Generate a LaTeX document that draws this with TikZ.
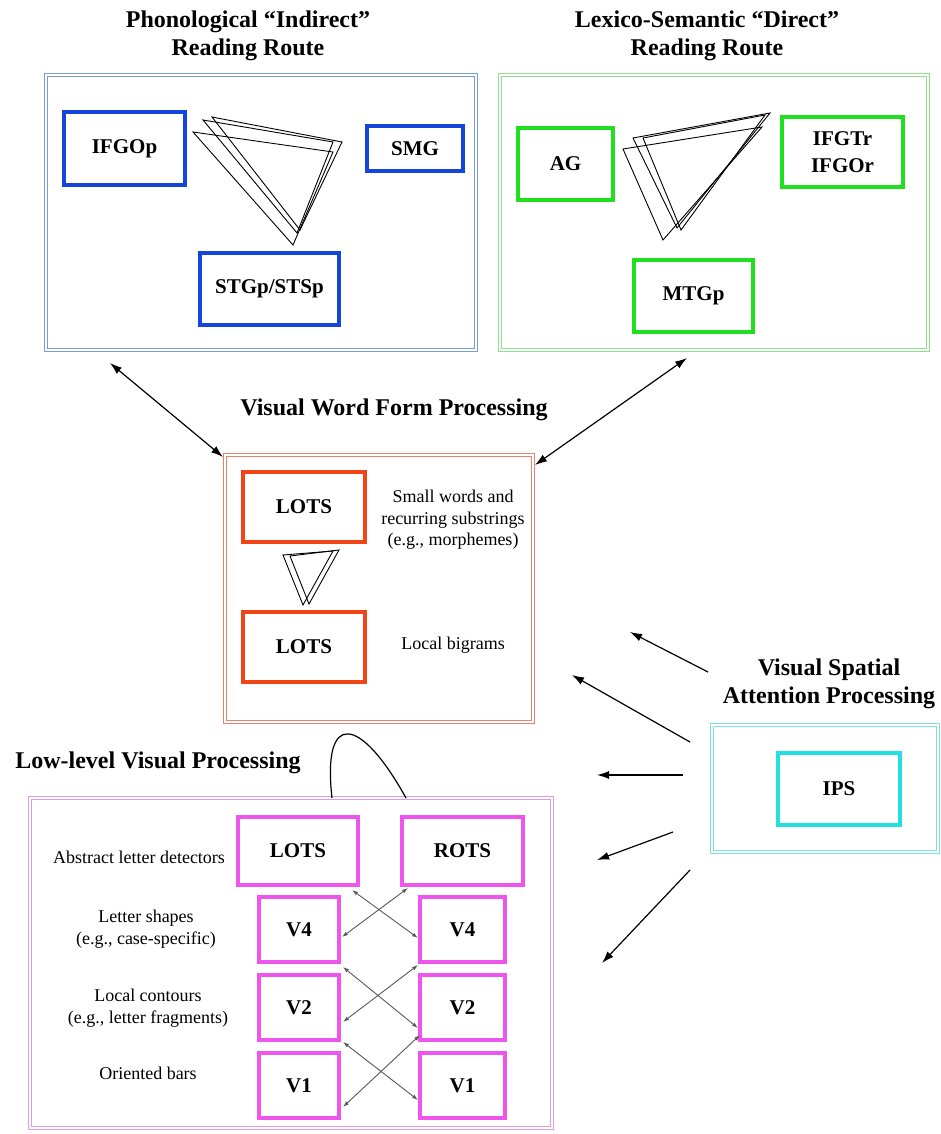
\documentclass[tikz,border=0pt]{standalone}
\usepackage{fontspec}
\setmainfont{Liberation Serif}
\usetikzlibrary{arrows.meta}
\definecolor{bluein}{HTML}{1446DC}
\definecolor{blueout}{HTML}{7B9AE0}
\definecolor{greenin}{HTML}{1EE01E}
\definecolor{greenout}{HTML}{8DE08D}
\definecolor{orangein}{HTML}{F04515}
\definecolor{orangeout}{HTML}{E8826A}
\definecolor{magin}{HTML}{EE55EE}
\definecolor{magout}{HTML}{E09AE0}
\definecolor{cyanin}{HTML}{22E0E0}
\definecolor{cyanout}{HTML}{7FE0E0}
\begin{document}
\begin{tikzpicture}[x=1pt,y=-1pt,
  every node/.style={inner sep=0pt,outer sep=0pt},
  sz/.style 2 args={minimum width=#1pt,minimum height=#2pt},
  region/.style={draw=#1,line width=1.3pt,double=white,double distance=1.8pt},
  roi/.style={draw=#1,line width=3.5pt,font=\fontsize{21}{27}\selectfont\bfseries,align=center},
  ttl/.style={font=\fontsize{24}{28}\selectfont\bfseries,align=center},
  lbl/.style={font=\fontsize{18}{21.5}\selectfont,align=center},
  tri/.style={draw=black,line width=0.9pt},
  bi/.style={{Latex[length=12pt,width=8pt]}-{Latex[length=12pt,width=8pt]},line width=1.2pt},
  one/.style={-{Latex[length=12pt,width=8pt]},line width=1.2pt},
  xarr/.style={{Latex[length=6pt,width=4pt]}-{Latex[length=6pt,width=4pt]},line width=0.9pt,draw=black!65}
]
\useasboundingbox[fill=white] (0,0) rectangle (941,1134);

% ---------- Phonological route ----------
\node[ttl] (t1) at (248,36) {Phonological “Indirect”\\Reading Route};
\node[region=blueout,sz={430}{275}] (phon) at (261,212.5) {};
\node[roi=bluein,sz={121}{73}] (ifgop) at (124.5,148.5) {IFGOp};
\node[roi=bluein,sz={96}{45}] (smg) at (415,148.5) {SMG};
\node[roi=bluein,sz={139}{72}] (stgp) at (269.5,289) {STGp/STSp};
\draw[tri] (193,132) -- (333,152) -- (293,245) -- cycle;
\draw[tri] (203,120) -- (333,142) -- (297,233) -- cycle;
\draw[tri] (212,117) -- (342,142) -- (300,230) -- cycle;

% ---------- Lexico-semantic route ----------
\node[ttl] (t2) at (707,36) {Lexico-Semantic “Direct”\\Reading Route};
\node[region=greenout,sz={428}{275}] (lex) at (714,212.5) {};
\node[roi=greenin,sz={95}{72}] (ag) at (565.5,164) {AG};
\node[roi=greenin,sz={121}{70}] (ifgtr) at (842.5,152) {IFGTr\\IFGOr};
\node[roi=greenin,sz={119}{72}] (mtgp) at (693.5,296) {MTGp};
\draw[tri] (623,149) -- (762,127) -- (663,240) -- cycle;
\draw[tri] (633,138) -- (770,113) -- (677,228) -- cycle;
\draw[tri] (643,138) -- (765,115) -- (681,230) -- cycle;

% ---------- Visual word form ----------
\node[ttl] (t3) at (394,410) {Visual Word Form Processing};
\node[region=orangeout,sz={308}{267}] (vwf) at (379,588.5) {};
\node[roi=orangein,sz={122}{70}] (lots1) at (304,507) {LOTS};
\node[roi=orangein,sz={122}{70}] (lots2) at (304,647) {LOTS};
\node[lbl] (l1) at (453,520) {Small words and\\recurring substrings\\(e.g., morphemes)};
\node[lbl] (l2) at (453,645) {Local bigrams};
\draw[tri] (283,555) -- (333,551) -- (303,605) -- cycle;
\draw[tri] (290,556) -- (339,550) -- (309,604) -- cycle;

\coordinate (pa) at (110,363);
\coordinate (la) at (687,358);
\draw[bi] (pa) -- ([shift={(-2,2)}]vwf.north west);
\draw[bi] (la) -- ([shift={(2,10)}]vwf.north east);

% ---------- Low-level visual ----------
\node[ttl] (t4) at (158,763) {Low-level Visual Processing};
\node[region=magout,sz={522}{330}] (low) at (291,963) {};
\node[roi=magin,sz={120}{68}] (lotsl) at (298,851) {LOTS};
\node[roi=magin,sz={121}{68}] (rots) at (462.5,851) {ROTS};
\node[roi=magin,sz={80}{65}] (v4l) at (299,929.5) {V4};
\node[roi=magin,sz={85}{65}] (v4r) at (462.5,929.5) {V4};
\node[roi=magin,sz={80}{65}] (v2l) at (299,1007.5) {V2};
\node[roi=magin,sz={85}{65}] (v2r) at (462.5,1007.5) {V2};
\node[roi=magin,sz={80}{65}] (v1l) at (299,1085.5) {V1};
\node[roi=magin,sz={85}{65}] (v1r) at (462.5,1085.5) {V1};
\node[lbl] (d1) at (139,857) {Abstract letter detectors};
\node[lbl] (d2) at (146,929) {Letter shapes\\(e.g., case-specific)};
\node[lbl] (d3) at (148,1008) {Local contours\\(e.g., letter fragments)};
\node[lbl] (d4) at (148,1073) {Oriented bars};

\draw[xarr] ([shift={(-6,5)}]lotsl.south east) -- ([shift={(-2,8.5)}]v4r.west);
\draw[xarr] ([shift={(6,3)}]rots.south west) -- ([shift={(3,7.5)}]v4l.east);
\draw[xarr] ([shift={(4,5)}]v4l.south east) -- ([shift={(-2,20.5)}]v2r.west);
\draw[xarr] ([shift={(-2,3)}]v4r.south west) -- ([shift={(4,14.5)}]v2l.east);
\draw[xarr] ([shift={(4,2)}]v2l.south east) -- ([shift={(-2,14.5)}]v1r.west);
\draw[xarr] ([shift={(0,-5)}]v2r.south west) -- ([shift={(4,21.5)}]v1l.east);

\coordinate (c1) at ([xshift=302pt]low.north west);
\coordinate (c2) at ([xshift=376pt]low.north west);
\draw[line width=1.2pt] (c1) .. controls (322,710) and (360,715) .. (c2);

% ---------- Visual spatial attention ----------
\node[ttl] (t5) at (829,684) {Visual Spatial\\Attention Processing};
\node[region=cyanout,sz={226}{127}] (att) at (825,788.5) {};
\node[roi=cyanin,sz={122}{72}] (ips) at (839,789) {IPS};

\coordinate (s1) at (708,672); \coordinate (e1) at (630,632);
\coordinate (s2) at (690,742); \coordinate (e2) at (572,675);
\coordinate (s3) at (683,775); \coordinate (e3) at (597,775);
\coordinate (s4) at (673,832); \coordinate (e4) at (597,860);
\coordinate (s5) at (690,870); \coordinate (e5) at (602,963);
\foreach \i in {1,...,5} {\draw[one] (s\i) -- (e\i);}
\end{tikzpicture}
\end{document}
